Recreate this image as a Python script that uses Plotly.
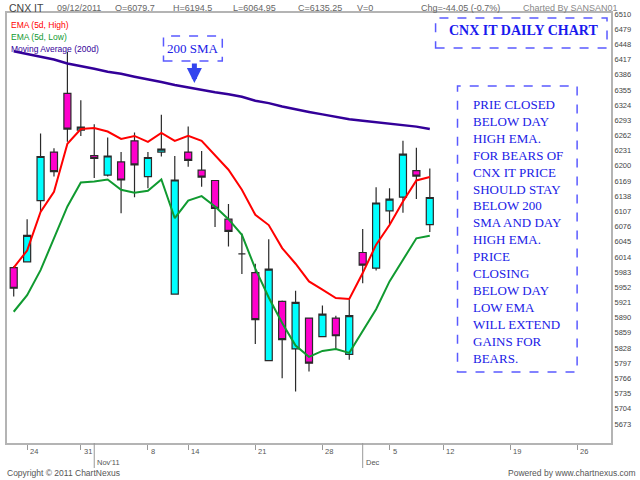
import plotly.graph_objects as go

# trading days shown (NSE holidays skipped) and empty days to the right edge
trade_days = ["2011-10-21", "2011-10-24", "2011-10-25", "2011-10-26", "2011-10-28",
              "2011-10-31", "2011-11-01", "2011-11-02", "2011-11-03", "2011-11-04",
              "2011-11-08", "2011-11-09", "2011-11-11", "2011-11-14", "2011-11-15",
              "2011-11-16", "2011-11-17", "2011-11-18", "2011-11-21", "2011-11-22",
              "2011-11-23", "2011-11-24", "2011-11-25", "2011-11-28", "2011-11-29",
              "2011-11-30", "2011-12-01", "2011-12-02", "2011-12-05", "2011-12-07",
              "2011-12-08", "2011-12-09"]
future_days = ["2011-12-12", "2011-12-13", "2011-12-14", "2011-12-15", "2011-12-16",
               "2011-12-19", "2011-12-20", "2011-12-21", "2011-12-22", "2011-12-23",
               "2011-12-26", "2011-12-27", "2011-12-28"]

opens = [5992, 6004, 6129, 6228, 6348, 6273, 6221, 6181, 6208, 6251, 6178, 6228,
         5938, 6228, 6191, 6170, 6091, 6020, 5982, 5802, 5923, 5826, 5889, 5851,
         5889, 5815, 6023, 5991, 6108, 6136, 6190, 6079.7]
highs = [5995, 6091, 6266, 6236, 6433, 6334, 6285, 6258, 6228, 6268, 6228, 6304,
         6220, 6280, 6230, 6171, 6122, 6062, 6000, 6050, 5925, 5945, 5890, 5915,
         5894, 5926, 6071, 6156, 6154, 6251, 6237, 6194.5]
lows = [5933, 6003, 6106, 6178, 6249, 6261, 6175, 6178, 6103, 6136, 6154, 6219,
        5938, 6198, 6157, 6075, 6035, 5979, 5836, 5802, 5766, 5739, 5780, 5851,
        5824, 5804, 5960, 5986, 6081, 6104, 6132, 6064.95]
closes = [5950, 6058, 6219, 6188, 6275, 6279, 6215, 6220, 6171, 6202, 6217, 6234,
          6171, 6211, 6177, 6113, 6066, 6020, 5886, 5989, 5845, 5921, 5797, 5897,
          5853, 5894, 5997, 6124, 6132, 6224, 6179, 6135.25]

ema_high = [5992, 6027, 6106, 6147, 6245, 6275, 6277, 6270, 6255, 6261, 6249, 6267,
            6251, 6261, 6251, 6222, 6192, 6151, 6100, 6079, 6032, 6000, 5964, 5947,
            5930, 5928, 5981, 6039, 6079, 6127, 6170, 6177]
ema_low = [5902, 5936, 5987, 6052, 6117, 6166, 6168, 6172, 6151, 6145, 6149, 6172,
           6093, 6129, 6138, 6117, 6091, 6059, 5990, 5931, 5879, 5833, 5810, 5822,
           5826, 5818, 5862, 5907, 5964, 6009, 6052, 6057]
sma_200 = [6434, 6428, 6423, 6417, 6409, 6404, 6398, 6392, 6388, 6382, 6377, 6371,
           6365, 6360, 6354, 6350, 6346, 6341, 6333, 6328, 6321, 6315, 6310, 6305,
           6300, 6295, 6292, 6289, 6286, 6284, 6280, 6275]

y_ticks = [5673, 5704, 5735, 5766, 5797, 5828, 5859, 5890, 5921, 5952, 5983, 6014,
           6045, 6076, 6107, 6138, 6169, 6200, 6231, 6262, 6293, 6324, 6355, 6386,
           6417, 6448, 6479, 6510]
x_tick_days = ["2011-10-24", "2011-10-31", "2011-11-08", "2011-11-14", "2011-11-21",
               "2011-11-28", "2011-12-05", "2011-12-12", "2011-12-19", "2011-12-26"]
x_tick_text = ["24", "31", "8", "14", "21", "28", "5", "12", "19", "26"]
month_days = ["2011-11-01", "2011-12-01"]
month_text = ["Nov'11", "Dec"]

note_lines = ["PRIE CLOSED", "BELOW DAY", "HIGH EMA.", "FOR BEARS OF", "CNX IT PRICE",
              "SHOULD STAY", "BELOW 200", "SMA AND DAY", "HIGH EMA.", "PRICE",
              "CLOSING", "BELOW DAY", "LOW EMA", "WILL EXTEND", "GAINS FOR", "BEARS."]

all_days = trade_days + future_days
x_trade = [all_days.index(d) for d in trade_days]

# plot area in pixels, used to place the decorations
L, R, T, B = 5, 611, 13, 443


def px(x):
    return (x - L) / (R - L)


def py(y):
    return (B - y) / (B - T)


fig = go.Figure()
fig.add_trace(go.Candlestick(
    x=x_trade, open=opens, high=highs, low=lows, close=closes,
    increasing=dict(line=dict(color='#2a2a2a', width=1.2), fillcolor='#00ffff'),
    decreasing=dict(line=dict(color='#2a2a2a', width=1.2), fillcolor='#ff00cc'),
    whiskerwidth=0, showlegend=False, hoverinfo='skip'
))
fig.add_trace(go.Scatter(x=x_trade, y=sma_200, mode='lines',
                         line=dict(color='#330099', width=2.5), showlegend=False))
fig.add_trace(go.Scatter(x=x_trade, y=ema_low, mode='lines',
                         line=dict(color='#109a30', width=2), showlegend=False))
fig.add_trace(go.Scatter(x=x_trade, y=ema_high, mode='lines',
                         line=dict(color='#ff0000', width=2), showlegend=False))

annotations = []
sans = 'Liberation Sans, Arial, sans-serif'
serif = 'Liberation Serif, Times New Roman, serif'

header = [("CNX IT", 5, 10.5, '#444444'), ("09/12/2011", 53, 9, '#666666'),
          ("O=6079.7", 111, 9, '#666666'), ("H=6194.5", 170, 9, '#666666'),
          ("L=6064.95", 230, 9, '#666666'), ("C=6135.25", 295, 9, '#666666'),
          ("V=0", 354, 9, '#666666'), ("Chg=-44.05 (-0.7%)", 418, 9, '#666666'),
          ("Charted By SANSAN01", 521, 9, '#888888')]
for txt, x, size, col in header:
    annotations.append(dict(text=txt, x=px(x), y=py(8), xref='paper', yref='paper',
                            xanchor='left', yanchor='middle', showarrow=False,
                            font=dict(family=sans, size=size, color=col)))

legend = [("EMA (5d, High)", '#ff0000', 25), ("EMA (5d, Low)", '#109a30', 37),
          ("Moving Average (200d)", '#330099', 49)]
for txt, col, y in legend:
    annotations.append(dict(text=txt, x=px(7), y=py(y), xref='paper', yref='paper',
                            xanchor='left', yanchor='middle', showarrow=False,
                            font=dict(family=sans, size=8.5, color=col)))

for d, txt in zip(x_tick_days, x_tick_text):
    annotations.append(dict(text=txt, x=all_days.index(d), y=py(445), xref='x', yref='paper',
                            xanchor='left', yanchor='top', xshift=1, showarrow=False,
                            font=dict(family=sans, size=7.5, color='#555555')))
for d, txt in zip(month_days, month_text):
    annotations.append(dict(text=txt, x=all_days.index(d), y=py(456), xref='x', yref='paper',
                            xanchor='left', yanchor='top', xshift=1, showarrow=False,
                            font=dict(family=sans, size=7.5, color='#555555')))

annotations.append(dict(text="Copyright © 2011 ChartNexus", x=px(3), y=py(473),
                        xref='paper', yref='paper', xanchor='left', yanchor='middle',
                        showarrow=False, font=dict(family=sans, size=8.5, color='#555555')))
annotations.append(dict(text="Powered by www.chartnexus.com", x=px(638), y=py(473),
                        xref='paper', yref='paper', xanchor='right', yanchor='middle',
                        showarrow=False, font=dict(family=sans, size=8.5, color='#555555')))

annotations.append(dict(text="200 SMA", x=px(191.5), y=py(49), xref='paper', yref='paper',
                        xanchor='center', yanchor='middle', showarrow=False,
                        font=dict(family=serif, size=13, color='#2020e6')))
annotations.append(dict(text="", x=px(193), y=py(83), ax=0, ay=-21,
                        xref='paper', yref='paper',
                        showarrow=True, arrowhead=2, arrowsize=0.6, arrowwidth=5,
                        arrowcolor='#3344ee'))
annotations.append(dict(text="<b>CNX IT DAILY CHART</b>", x=px(523), y=py(30),
                        xref='paper', yref='paper', xanchor='center', yanchor='middle',
                        showarrow=False, font=dict(family=serif, size=14, color='#1a1aee')))
annotations.append(dict(text="<br>".join(note_lines), x=px(471), y=py(95),
                        xref='paper', yref='paper', xanchor='left', yanchor='top',
                        align='left', showarrow=False,
                        font=dict(family=serif, size=13, color='#2020e6')))

box_line = dict(color='#5a5aff', width=1.5, dash='dash')
shapes = [
    dict(type='rect', xref='paper', yref='paper', x0=px(162), x1=px(221),
         y0=py(61), y1=py(36), line=box_line),
    dict(type='rect', xref='paper', yref='paper', x0=px(435), x1=px(607),
         y0=py(48), y1=py(18), line=box_line),
    dict(type='rect', xref='paper', yref='paper', x0=px(457), x1=px(577),
         y0=py(372), y1=py(86), line=box_line),
]
for d in month_days:
    shapes.append(dict(type='line', xref='x', yref='paper', x0=all_days.index(d),
                       x1=all_days.index(d), y0=0, y1=py(468),
                       line=dict(color='#999999', width=1)))

fig.update_layout(
    width=640, height=480,
    margin=dict(l=L, r=640 - R, t=T, b=480 - B),
    paper_bgcolor='white', plot_bgcolor='white',
    boxgap=0.25,
    xaxis=dict(range=[-0.5, len(all_days) - 0.5], rangeslider=dict(visible=False),
               showgrid=False, zeroline=False, showline=True, mirror=True,
               linecolor='#b4b4b4', linewidth=2,
               tickmode='array', tickvals=[all_days.index(d) for d in x_tick_days],
               showticklabels=False, ticks='outside', ticklen=5, tickcolor='#999999',
               tickwidth=1),
    yaxis=dict(range=[5634, 6512], side='right', showgrid=False, zeroline=False,
               showline=True, mirror=True, linecolor='#b4b4b4', linewidth=2,
               tickmode='array', tickvals=y_ticks, ticks='',
               tickfont=dict(family=sans, size=7.5, color='#444444')),
    annotations=annotations,
    shapes=shapes,
    hovermode=False,
)

# page body has a default margin; drop it so the figure sits at the window corner
fig.write_html("out.html", config={'displayModeBar': False},
               post_script="document.body.style.margin='0';"
                           "document.body.style.overflow='hidden';")
